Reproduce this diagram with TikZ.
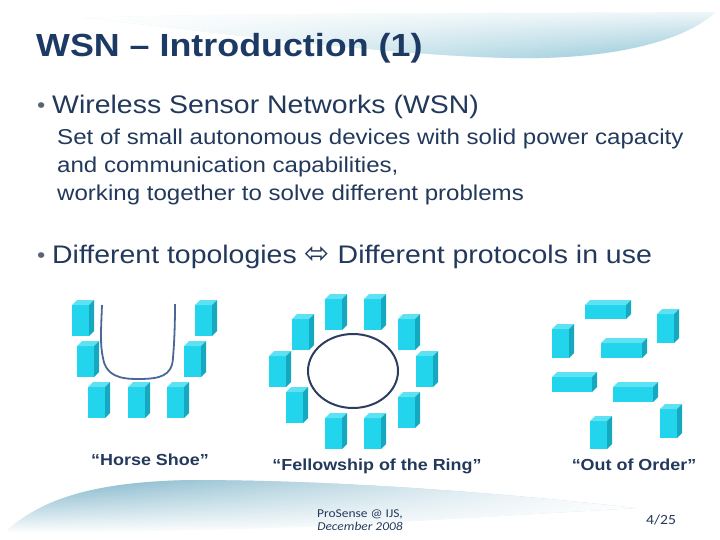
\documentclass[tikz,border=0pt]{standalone}
\usepackage{fontspec}
\setmainfont{Liberation Sans}[FakeStretch=1.12]
\newfontfamily\footfont{Carlito}[FakeStretch=1.12]
\newfontfamily\arrowfont{DejaVu Sans}
\usetikzlibrary{fadings}

\definecolor{titleblue}{RGB}{28, 58, 100}
\definecolor{textblue}{RGB}{35, 57, 92}
\definecolor{dotgray}{RGB}{90, 100, 118}
\definecolor{sensorfront}{RGB}{34, 212, 236}
\definecolor{sensortop}{RGB}{92, 226, 243}
\definecolor{sensorside}{RGB}{22, 168, 190}
\definecolor{shoeline}{RGB}{76, 102, 150}
\definecolor{ringline}{RGB}{46, 60, 96}
\definecolor{swoosh}{RGB}{140, 196, 214}
\definecolor{swooshdark}{RGB}{118, 176, 198}

\tikzfading[name=fadeeast, left color=transparent!0, middle color=transparent!75, right color=transparent!100]
\tikzfading[name=fadewest, left color=transparent!100, middle color=transparent!60, right color=transparent!0]

% one sensor: x, y (top left of front face), width, height
\newcommand{\sensorbox}[4]{%
  \fill[sensorfront] (#1,#2) rectangle ++(#3,#4);
  \fill[sensortop] (#1,#2) -- ++(5,-5) -- ++(#3,0) -- ++(-5,5) -- cycle;
  \fill[sensorside] (#1+#3,#2) -- ++(5,-5) -- ++(0,#4) -- ++(-5,5) -- cycle;
}

\begin{document}
\begin{tikzpicture}[x=1pt, y=-1pt,
    title/.style={font=\fontsize{32}{36}\selectfont\bfseries, text=titleblue, inner sep=0pt},
    bullet/.style={font=\fontsize{25.4}{30}\selectfont, text=textblue, inner sep=0pt},
    dot/.style={font=\fontsize{21}{24}\selectfont, text=dotgray, inner sep=0pt},
    subtext/.style={font=\fontsize{21.5}{28}\selectfont, text=textblue, inner sep=0pt},
    caption/.style={font=\fontsize{16}{18}\selectfont\bfseries, text=textblue, inner sep=0pt},
    footer/.style={font=\footfont\fontsize{12}{13}\selectfont, text=textblue, inner sep=0pt}]
  \useasboundingbox (0,0) rectangle (720,540);

  % swoosh at the top
  \shade[top color=swoosh!15, bottom color=swoosh] (83,18) .. controls (250,12) and (550,13) .. (716,12)
    .. controls (680,45) and (600,60) .. (510,58) .. controls (380,55) and (200,30) .. (83,18) -- cycle;
  \fill[white, path fading=fadeeast] (83,18) .. controls (250,12) and (550,13) .. (716,12)
    .. controls (680,45) and (600,60) .. (510,58) .. controls (380,55) and (200,30) .. (83,18) -- cycle;

  % swoosh at the bottom
  \shade[top color=swooshdark, bottom color=white] (5,532) .. controls (40,500) and (90,482) .. (190,480)
    .. controls (350,480) and (520,495) .. (636,508) .. controls (520,515) and (400,522) .. (300,527)
    .. controls (150,532) and (60,533) .. (5,532) -- cycle;
  \fill[white, path fading=fadewest] (5,532) .. controls (40,500) and (90,482) .. (190,480)
    .. controls (350,480) and (520,495) .. (636,508) .. controls (520,515) and (400,522) .. (300,527)
    .. controls (150,532) and (60,533) .. (5,532) -- cycle;

  % texts
  \node[title, anchor=base west] (head) at (36,57) {WSN – Introduction (1)};
  \node[dot, anchor=base west] (dot1) at (37,113) {•};
  \node[bullet, anchor=base west] (wsn) at (52,114) {Wireless Sensor Networks (WSN)};
  \node[subtext, anchor=base west] (def1) at (57,145) {Set of small autonomous devices with solid power capacity};
  \node[subtext, anchor=base west] (def2) at (57,173) {and communication capabilities,};
  \node[subtext, anchor=base west] (def3) at (57,201) {working together to solve different problems};
  \node[dot, anchor=base west] (dot2) at (37,262) {•};
  \node[bullet, anchor=base west] (topo) at (52,263) {Different topologies {\arrowfont\fontsize{30}{30}\selectfont ⬄} Different protocols in use};

  % horse shoe
  \foreach \x/\y in {72/305, 77/346, 88/387, 128/387, 167/387, 184/346, 195/305}
    \sensorbox{\x}{\y}{17}{31};
  \draw[shoeline, line width=1.8pt] (102,305) .. controls (101,330) and (100,345) .. (103,358)
    .. controls (106,376) and (120,379) .. (138,379)
    .. controls (160,379) and (172,376) .. (173,358) .. controls (174,345) and (175,330) .. (175,304);

  % ring
  \foreach \x/\y in {325/299, 364/299, 292/319, 398/319, 269/356, 416/356, 286/392, 398/397, 325/418, 364/418}
    \sensorbox{\x}{\y}{17}{31};
  \draw[ringline, line width=2pt] (353,371) ellipse [x radius=45, y radius=37];

  % out of order
  \foreach \x/\y/\w/\h in {585/305/41/14, 601/343/41/15, 552/377/40/15, 613/387/40/15,
      657/314/17/29, 552/329/17/29, 660/409/17/29, 590/421/17/28}
    \sensorbox{\x}{\y}{\w}{\h};

  \node[caption, anchor=base] (shoe) at (150,465) {“Horse Shoe”};
  \node[caption, anchor=base] (ring) at (377,470) {“Fellowship of the Ring”};
  \node[caption, anchor=base] (order) at (634,470) {“Out of Order”};

  % footer
  \node[footer, anchor=base] (venue) at (360,517) {ProSense @ IJS,};
  \node[footer, anchor=base, font=\footfont\itshape\fontsize{12}{13}\selectfont] (date) at (360,530) {December 2008};
  \node[footer, anchor=base, font=\footfont\fontsize{14}{16}\selectfont] (page) at (661,524) {4/25};
\end{tikzpicture}
\end{document}
